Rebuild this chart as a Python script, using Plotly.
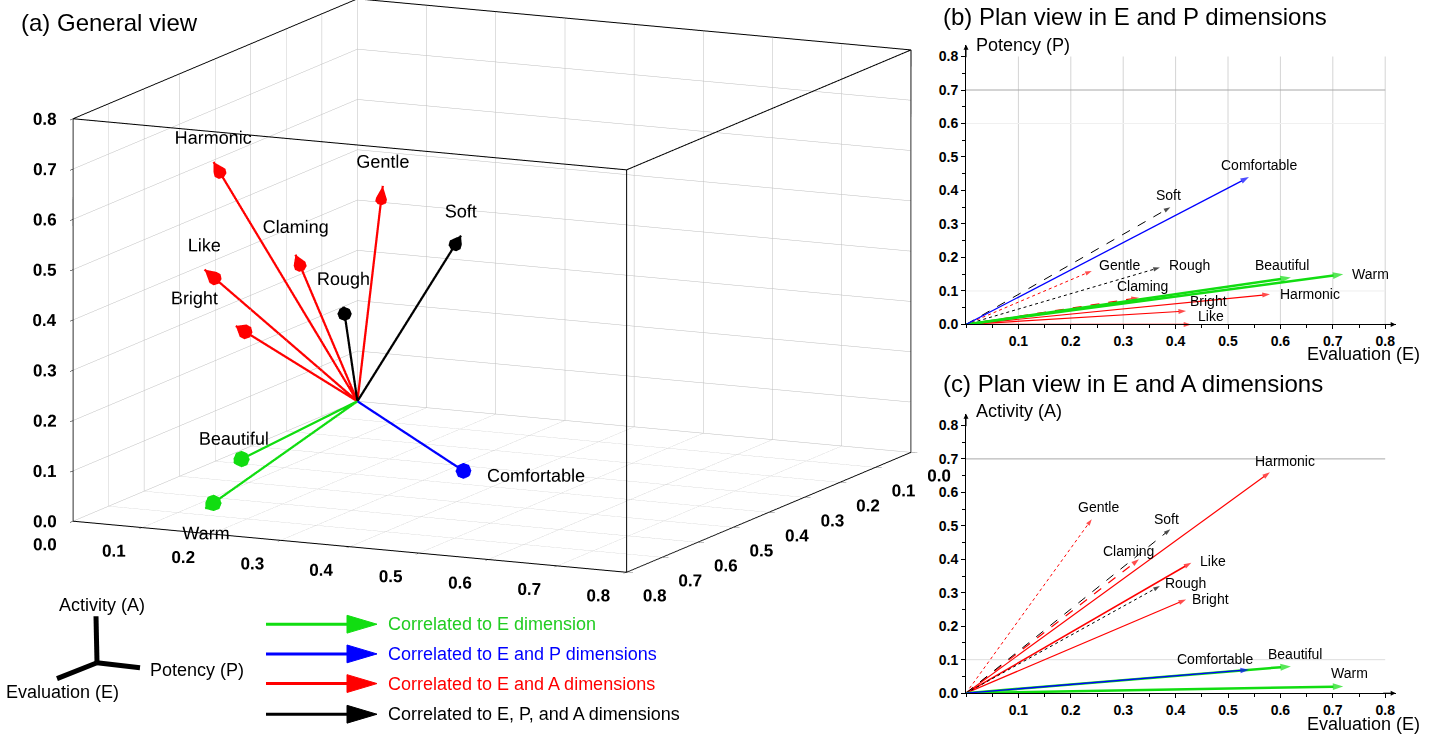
import plotly.graph_objects as go

# ---------------- data ----------------
words = ["Warm", "Beautiful", "Comfortable", "Harmonic", "Gentle",
         "Claming", "Like", "Bright", "Soft", "Rough"]
E_vals = [0.72, 0.62, 0.54, 0.58, 0.24, 0.33, 0.43, 0.42, 0.39, 0.37]
P_vals = [0.15, 0.14, 0.44, 0.09, 0.16, 0.08, 0.00, 0.04, 0.35, 0.17]
A_vals = [0.02, 0.08, 0.07, 0.66, 0.52, 0.40, 0.39, 0.28, 0.49, 0.32]
groups = ["E", "E", "EP", "EA", "EA", "EA", "EA", "EA", "EPA", "EPA"]

group_order = ["EA", "EPA", "E", "EP"]
legend_order = ["E", "EP", "EA", "EPA"]
legend_labels = {
    "E": "Correlated to E dimension",
    "EP": "Correlated to E and P dimensions",
    "EA": "Correlated to E and A dimensions",
    "EPA": "Correlated to E, P, and A dimensions",
}
ticks3d = [0.0, 0.1, 0.2, 0.3, 0.4, 0.5, 0.6, 0.7, 0.8]
xticks2d = [0.1, 0.2, 0.3, 0.4, 0.5, 0.6, 0.7, 0.8]
yticks2d = [0.0, 0.1, 0.2, 0.3, 0.4, 0.5, 0.6, 0.7, 0.8]

# ---------------- styles ----------------
colors = {"E": "#11dd11", "EP": "#0000ff", "EA": "#ff0000", "EPA": "#000000"}
dash2d = {"Warm": "solid", "Beautiful": "solid", "Comfortable": "solid", "Harmonic": "solid",
          "Gentle": "dot", "Claming": "dash", "Like": "solid", "Bright": "solid",
          "Soft": "dash", "Rough": "dot"}
width2d = {"Warm": 2.5, "Beautiful": 2.5, "Comfortable": 1.3, "Harmonic": 1.2,
           "Gentle": 1.0, "Claming": 1.2, "Like": 1.5, "Bright": 1.2, "Soft": 1.0, "Rough": 1.0}
head2d = {"Warm": 11, "Beautiful": 11, "Comfortable": 9, "Harmonic": 8, "Gentle": 7,
          "Claming": 8, "Like": 8, "Bright": 8, "Soft": 7, "Rough": 7}
off_b = {"Warm": (27, 0), "Beautiful": (-9, -13), "Comfortable": (10, -12), "Harmonic": (40, 0),
         "Gentle": (28, -6), "Claming": (4, -12), "Like": (20, -8), "Bright": (22, -10),
         "Soft": (-2, -12), "Rough": (30, -3)}
off_c = {"Warm": (6, -13), "Beautiful": (4, -12), "Comfortable": (-34, -11), "Harmonic": (15, -11),
         "Gentle": (7, -12), "Claming": (-10, -8), "Like": (22, -2), "Bright": (24, 0),
         "Soft": (-4, -10), "Rough": (26, -3)}
pos3d = {"Warm": "bottom center", "Beautiful": "top center", "Comfortable": "middle right",
         "Harmonic": "top center", "Gentle": "top center", "Claming": "top center",
         "Like": "top center", "Bright": "top left", "Soft": "top center", "Rough": "top center"}

FONT = "Liberation Sans, Arial, sans-serif"
W, H = 1440, 744
NB = "\u00a0"


def px(x):
    return x / W


def py(y):
    return 1 - y / H


fig = go.Figure()

# ---------------- (a) 3D view ----------------
head_len = 0.04
for g in group_order:
    idx = [i for i, gg in enumerate(groups) if gg == g]
    xs, ys, zs = [], [], []
    for i in idx:
        xs += [0, E_vals[i], None]
        ys += [0, P_vals[i], None]
        zs += [0, A_vals[i], None]
    fig.add_trace(go.Scatter3d(x=xs, y=ys, z=zs, mode="lines",
                               line=dict(color=colors[g], width=4.5),
                               hoverinfo="skip", showlegend=False, scene="scene"))
    us, vs, ws = [], [], []
    for i in idx:
        n = (E_vals[i] ** 2 + P_vals[i] ** 2 + A_vals[i] ** 2) ** 0.5
        us.append(E_vals[i] / n * head_len)
        vs.append(P_vals[i] / n * head_len)
        ws.append(A_vals[i] / n * head_len)
    fig.add_trace(go.Cone(x=[E_vals[i] for i in idx], y=[P_vals[i] for i in idx],
                          z=[A_vals[i] for i in idx], u=us, v=vs, w=ws,
                          anchor="tip", sizemode="raw", sizeref=1,
                          colorscale=[[0, colors[g]], [1, colors[g]]], showscale=False,
                          lighting=dict(ambient=1, diffuse=0, specular=0, roughness=1, fresnel=0),
                          hoverinfo="skip", scene="scene"))

fig.add_trace(go.Scatter3d(x=E_vals, y=P_vals, z=A_vals, mode="text", text=words,
                           textposition=[pos3d[w] for w in words],
                           textfont=dict(family=FONT, size=18, color="black"),
                           hoverinfo="skip", showlegend=False, scene="scene"))

lo, hi = ticks3d[0], ticks3d[-1]
# front box edges (plotly only draws the back ones)
fig.add_trace(go.Scatter3d(x=[hi, hi, lo, None, hi, hi], y=[lo, hi, hi, None, hi, hi],
                           z=[hi, hi, hi, None, lo, hi], mode="lines",
                           line=dict(color="black", width=2),
                           hoverinfo="skip", showlegend=False, scene="scene"))

# horizontal tick labels of the 3D box
tfont3 = dict(family=FONT, size=17, color="black", weight="bold")
n3 = len(ticks3d)
fig.add_trace(go.Scatter3d(x=[hi] * n3, y=[lo] * n3, z=ticks3d, mode="text",
                           text=[f"{t:.1f}" + NB * 2 for t in ticks3d],
                           textposition="middle left", textfont=tfont3,
                           hoverinfo="skip", showlegend=False, scene="scene"))
fig.add_trace(go.Scatter3d(x=[hi] * n3, y=ticks3d, z=[lo] * n3, mode="text",
                           text=[f"{t:.1f}" + NB for t in ticks3d],
                           textposition="bottom left", textfont=tfont3,
                           hoverinfo="skip", showlegend=False, scene="scene"))
fig.add_trace(go.Scatter3d(x=ticks3d, y=[hi] * n3, z=[lo] * n3, mode="text",
                           text=[NB * 2 + f"{t:.1f}" for t in ticks3d],
                           textposition="bottom right", textfont=tfont3,
                           hoverinfo="skip", showlegend=False, scene="scene"))

ax3 = dict(range=[lo, hi], tickvals=ticks3d, showticklabels=False,
           showbackground=False, showgrid=True, gridcolor="#bdbdbd", gridwidth=1,
           showline=True, linecolor="black", linewidth=2, mirror=True,
           ticks="outside", ticklen=7, tickcolor="black", zeroline=False,
           showspikes=False, title=dict(text=""))

# camera: view direction and a small vertical shift of the view centre
view_dir = (0.888, 0.4155, 0.1973)
up_vec = (-0.1788, -0.0837, 0.980)
shift = -0.0978
cen = tuple(shift * u for u in up_vec)
eye = tuple(c + 3 * d for c, d in zip(cen, view_dir))
fig.update_layout(scene=dict(
    domain=dict(x=[0, 984 / W], y=[1 - 640 / H, 1]),
    xaxis=ax3, yaxis=ax3, zaxis=ax3,
    aspectmode="manual",
    aspectratio=dict(x=2.120, y=1.931, z=1.297),
    camera=dict(eye=dict(x=eye[0], y=eye[1], z=eye[2]),
                center=dict(x=cen[0], y=cen[1], z=cen[2]), up=dict(x=0, y=0, z=1),
                projection=dict(type="orthographic")),
    bgcolor="rgba(0,0,0,0)"))

# ---------------- (b), (c) plan views ----------------
XMAX, YMAX = 0.82, 0.835
panels = [("x", "y", P_vals, off_b), ("x2", "y2", A_vals, off_c)]
annotations = []
for xa, ya, Y, offs in panels:
    for g in group_order:
        for i, w in enumerate(words):
            if groups[i] != g:
                continue
            fig.add_trace(go.Scatter(
                x=[0, E_vals[i]], y=[0, Y[i]], xaxis=xa, yaxis=ya,
                mode="lines+markers",
                line=dict(color=colors[g], width=width2d[w], dash=dash2d[w]),
                marker=dict(symbol=["circle", "arrow"], size=[0, head2d[w]],
                            angleref="previous", color=colors[g], line=dict(width=0)),
                hoverinfo="skip", showlegend=False, cliponaxis=False))
    for i, w in enumerate(words):
        dx, dy = offs[w]
        annotations.append(dict(x=E_vals[i], y=Y[i], xref=xa, yref=ya, text=w,
                                showarrow=False, xshift=dx, yshift=-dy,
                                font=dict(family=FONT, size=14, color="black")))
    annotations.append(dict(x=XMAX, y=0, xref=xa, yref=ya, ax=-14, ay=0, text="",
                            showarrow=True, arrowhead=2, arrowsize=1, arrowwidth=1,
                            arrowcolor="black"))
    annotations.append(dict(x=0, y=YMAX, xref=xa, yref=ya, ax=0, ay=14, text="",
                            showarrow=True, arrowhead=2, arrowsize=1, arrowwidth=1,
                            arrowcolor="black"))

tickfont2d = dict(family=FONT, size=14, color="black", weight="bold")
xdom = [966 / W, (966 + 524 * XMAX) / W]
xcommon = dict(range=[0, XMAX], tickvals=xticks2d, ticktext=[f"{t:.1f}" for t in xticks2d],
               showline=True, linecolor="black", linewidth=1, ticks="outside", ticklen=4,
               tickcolor="black", zeroline=False, tickfont=tickfont2d, fixedrange=True,
               showgrid=False,
               minor=dict(ticks="outside", dtick=0.05, ticklen=3, tickcolor="black"))
ycommon = dict(range=[0, YMAX], tickvals=yticks2d, ticktext=[f"{t:.1f}" for t in yticks2d],
               showline=True, linecolor="black", linewidth=1, ticks="outside", ticklen=4,
               tickcolor="black", zeroline=False, tickfont=tickfont2d, showgrid=False,
               fixedrange=True,
               minor=dict(ticks="outside", dtick=0.05, ticklen=3, tickcolor="black"))
fig.update_layout(
    xaxis=dict(domain=xdom, anchor="y", **xcommon),
    yaxis=dict(domain=[1 - 328 / H, 1 - (328 - 338.6 * YMAX) / H], anchor="x", **ycommon),
    xaxis2=dict(domain=xdom, anchor="y2", **xcommon),
    yaxis2=dict(domain=[1 - 700.7 / H, 1 - (700.7 - 338.3 * YMAX) / H], anchor="x2", **ycommon),
)

shapes = []
for xv in xticks2d:
    shapes.append(dict(type="line", xref="x", yref="y", x0=xv, x1=xv, y0=0, y1=yticks2d[-1],
                       line=dict(color="#d4d4d4", width=1), layer="below"))
hlines = [("y", 0.7, "#a8a8a8"), ("y", 0.1, "#eeeeee"), ("y", 0.6, "#f0f0f0"),
          ("y2", 0.7, "#a8a8a8"), ("y2", 0.1, "#dddddd")]
for yref, yv, c in hlines:
    xr = "x" if yref == "y" else "x2"
    shapes.append(dict(type="line", xref=xr, yref=yref, x0=0, x1=xticks2d[-1], y0=yv, y1=yv,
                       line=dict(color=c, width=1), layer="below"))


def text(xp, yp, s, size, anchor="left", color="black"):
    annotations.append(dict(x=px(xp), y=py(yp), xref="paper", yref="paper", text=s,
                            showarrow=False, xanchor=anchor, yanchor="middle",
                            font=dict(family=FONT, size=size, color=color)))


text(19, 23, "(a) General view", 24)
text(941, 17, "(b) Plan view in E and P dimensions", 24)
text(941, 388, "(c) Plan view in E and A dimensions", 24)
text(974, 45, "Potency (P)", 18)
text(1422, 358, "Evaluation (E)", 18, "right")
text(974, 415, "Activity (A)", 18)
text(1422, 732, "Evaluation (E)", 18, "right")

icon = [((96, 623), (97, 670)), ((97, 670), (140, 675)), ((97, 670), (57, 686))]
for (x0, y0), (x1, y1) in icon:
    shapes.append(dict(type="line", xref="paper", yref="paper", x0=px(x0), y0=py(y0),
                       x1=px(x1), y1=py(y1), line=dict(color="black", width=5)))
text(102, 612, "Activity (A)", 18, "center")
text(148, 677, "Potency (P)", 18, "left")
text(63, 700, "Evaluation (E)", 18, "center")

leg_y = [631, 661, 691, 722]
for g, yy in zip(legend_order, leg_y):
    c = colors[g]
    shapes.append(dict(type="line", xref="paper", yref="paper", x0=px(266), x1=px(350),
                       y0=py(yy), y1=py(yy), line=dict(color=c, width=3)))
    path = f"M {px(347)} {py(yy - 9)} L {px(377)} {py(yy)} L {px(347)} {py(yy + 9)} Z"
    shapes.append(dict(type="path", xref="paper", yref="paper", path=path,
                       fillcolor=c, line=dict(color=c, width=1)))
    text(386, yy, legend_labels[g], 18, "left", c if g != "E" else "#22cc22")

fig.update_layout(width=W, height=H, margin=dict(l=0, r=0, t=0, b=0),
                  paper_bgcolor="white", plot_bgcolor="white",
                  annotations=annotations, shapes=shapes, showlegend=False,
                  hovermode=False)

fig.write_html("out.html", post_script="document.body.style.margin='0';")
